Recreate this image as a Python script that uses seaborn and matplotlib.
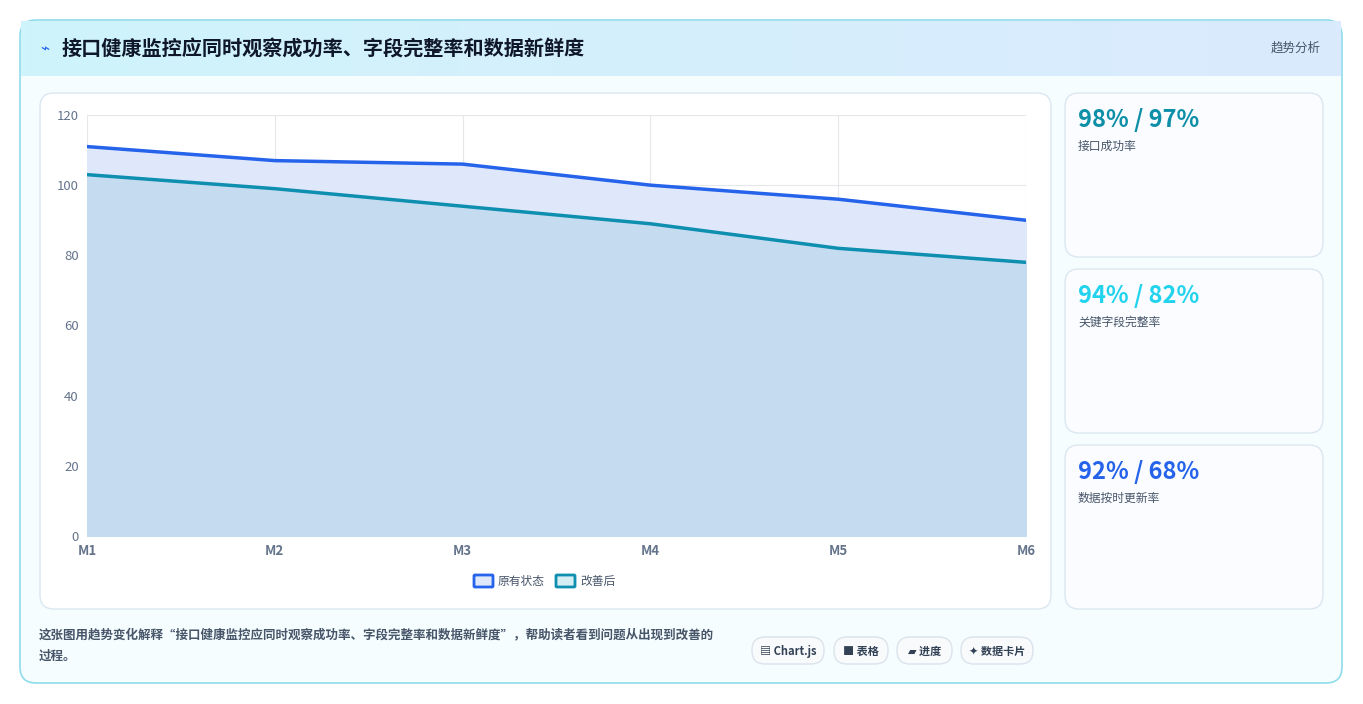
import matplotlib
matplotlib.use('Agg')
import matplotlib.pyplot as plt
import seaborn as sns
import pandas as pd
import numpy as np
from matplotlib.patches import FancyBboxPatch

months = ['M1', 'M2', 'M3', 'M4', 'M5', 'M6']
before = [111, 107, 106, 100, 96, 90]
after = [103, 99, 94, 89, 82, 78]
series_names = ['原有状态', '改善后']
card_values = ['98% / 97%', '94% / 82%', '92% / 68%']
card_labels = ['接口成功率', '关键字段完整率', '数据按时更新率']
card_colors = ['#0e8fa8', '#22d3ee', '#2563eb']
pills = ['▤ Chart.js', '■ 表格', '▰ 进度', '✦ 数据卡片']

sns.set_theme(style='white')
plt.rcParams['font.family'] = ['Noto Sans CJK SC', 'DejaVu Sans']

W, H = 1363, 704
fig = plt.figure(figsize=(W / 100, H / 100), dpi=100)
fig.patch.set_facecolor('white')


def box(x, y, w, h, fc, ec, r=12, lw=1.0, z=0):
    p = FancyBboxPatch((x / W, 1 - (y + h) / H), w / W, h / H,
                       boxstyle=f'round,pad=0,rounding_size={r / W}',
                       transform=fig.transFigure, fc=fc, ec=ec, lw=lw, zorder=z,
                       mutation_aspect=W / H)
    fig.add_artist(p)


def txt(x, y, s, **kw):
    fig.text(x / W, 1 - y / H, s, **kw)


# outer card + header
box(20, 20, 1322, 663, '#f5fdff', '#8fdcea', r=16, lw=1.2)
hdr = fig.add_axes([21 / W, 1 - 76 / H, 1320 / W, 55 / H], zorder=0.5)
grad = np.linspace(0, 1, 256).reshape(1, -1)
hdr.imshow(grad, aspect='auto', cmap=matplotlib.colors.LinearSegmentedColormap.from_list(
    'g', ['#cff4fb', '#dbeafe']), extent=[0, 1, 0, 1])
hdr.axis('off')
txt(40, 49, '⌁', fontsize=11, color='#2563eb', va='center')
txt(62, 49, '接口健康监控应同时观察成功率、字段完整率和数据新鲜度', fontsize=14.5,
    fontweight='bold', color='#0f172a', va='center')
txt(1321, 48, '趋势分析', fontsize=9, color='#475569', va='center', ha='right')

# chart panel
box(40, 93, 1011, 516, 'white', '#dbe7f0', r=14)

df = pd.DataFrame({'month': months * 2, 'value': before + after,
                   'series': [series_names[0]] * 6 + [series_names[1]] * 6})
ax = fig.add_axes([87 / W, 1 - 536 / H, 939 / W, 421 / H])
x = np.arange(len(months))
ax.fill_between(x, before, color='#dfe8fb', zorder=1)
ax.fill_between(x, after, color='#c5dcf0', zorder=1.5)
df['x'] = df['month'].map({m: i for i, m in enumerate(months)})
sns.lineplot(data=df, x='x', y='value', hue='series',
             palette=['#2563eb', '#0e8fb0'], linewidth=2.5, ax=ax, legend=False, zorder=3)
ax.set_xlim(0, len(months) - 1)
ax.set_ylim(0, 120)
ax.set_yticks(range(0, 121, 20))
ax.set_xticks(x)
ax.set_xticklabels(months, fontweight='bold')
ax.tick_params(colors='#64748b', labelsize=9.5, length=0, pad=6)
ax.grid(True, color='#e5e7eb', lw=0.8)
ax.set_axisbelow(True)
for s in ax.spines.values():
    s.set_visible(False)
ax.set_xlabel('')
ax.set_ylabel('')

# legend
for lx, name, fc, ec in [(474, series_names[0], '#dfe8fb', '#2563eb'),
                         (556, series_names[1], '#d4eef3', '#0e8fb0')]:
    box(lx, 575, 19, 12, fc, ec, r=1, lw=2)
    txt(lx + 24, 581, name, fontsize=8.5, color='#475569', va='center')

# KPI cards
for i in range(3):
    y0 = 93 + i * 176
    box(1065, y0, 258, 164, '#fafcff', '#dbe7f0', r=14)
    txt(1078, y0 + 27, card_values[i], fontsize=17, fontweight='bold',
        color=card_colors[i], va='center')
    txt(1078, y0 + 53, card_labels[i], fontsize=8.5, color='#475569', va='center')

# footer
txt(39, 635, '这张图用趋势变化解释“接口健康监控应同时观察成功率、字段完整率和数据新鲜度”，帮助读者看到问题从出现到改善的',
    fontsize=9, color='#475569', fontweight='bold', va='center')
txt(39, 656, '过程。', fontsize=9, color='#475569', fontweight='bold', va='center')
px = [752, 834, 897, 961]
pw = [72, 54, 55, 72]
for p, w, s in zip(px, pw, pills):
    box(p, 637, w, 27, '#f8fafc', '#dbe3ec', r=13)
    txt(p + w / 2, 651, s, fontsize=8, fontweight='bold', color='#334155',
        ha='center', va='center')

fig.savefig('out.png', dpi=100, facecolor='white')
